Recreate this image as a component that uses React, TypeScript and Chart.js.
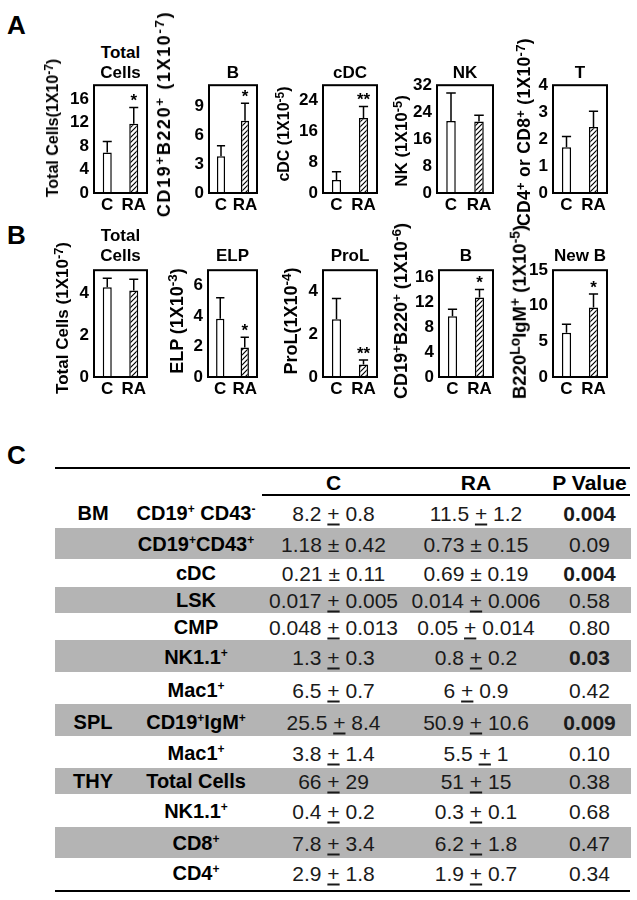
import React, { useEffect, useRef } from "react";
import { Chart, registerables } from "chart.js";

Chart.register(...registerables);

const FONT = "'Liberation Sans', Arial, Helvetica, sans-serif";

// ---------- DATA ----------
const groups = ["C", "RA"];

// Panel A
const aTitles = ["Total\nCells", "B", "cDC", "NK", "T"];
const aYTitles = [
  "Total Cells(1X10^{-7})",
  "CD19^{+}B220^{+} (1X10^{-7})",
  "cDC (1X10^{-5})",
  "NK (1X10^{-5})",
  "CD4^{+} or CD8^{+} (1X10^{-7})",
];
const aMeans = [
  [6.9, 11.8],
  [3.83, 7.5],
  [3.4, 19.5],
  [21.4, 21.2],
  [1.7, 2.45],
];
const aErrors = [
  [1.9, 2.8],
  [1.07, 1.83],
  [2.1, 3.0],
  [8.3, 1.9],
  [0.4, 0.58],
];
const aStars = [
  ["", "*"],
  ["", "*"],
  ["", "**"],
  ["", ""],
  ["", ""],
];
const aMax = [18.4, 11.2, 28, 32, 4];
const aStep = [4, 3, 8, 8, 1];

// Panel B
const bTitles = ["Total\nCells", "ELP", "ProL", "B", "New B"];
const bYTitles = [
  "Total Cells (1X10^{-7})",
  "ELP (1X10^{-3})",
  "ProL(1X10^{-4})",
  "CD19^{+}B220^{+} (1X10^{-6})",
  "B220^{Lo}IgM^{+} (1X10^{-5})",
];
const bMeans = [
  [4.28, 4.13],
  [3.82, 1.93],
  [2.7, 0.58],
  [9.8, 12.8],
  [6.2, 9.77],
];
const bErrors = [
  [0.43, 0.54],
  [1.38, 0.67],
  [0.98, 0.22],
  [1.1, 1.3],
  [1.2, 1.9],
];
const bStars = [
  ["", ""],
  ["", "*"],
  ["", "**"],
  ["", "*"],
  ["", "*"],
];
const bMax = [5.1, 7, 5, 17.2, 15];
const bStep = [2, 2, 2, 4, 5];

// Panel C table
const tableHeader = ["C", "RA", "P Value"];
const organs = ["BM", "", "", "", "", "", "", "SPL", "", "THY", "", "", ""];
const populations = [
  "CD19^{+} CD43^{-}",
  "CD19^{+}CD43^{+}",
  "cDC",
  "LSK",
  "CMP",
  "NK1.1^{+}",
  "Mac1^{+}",
  "CD19^{+}IgM^{+}",
  "Mac1^{+}",
  "Total Cells",
  "NK1.1^{+}",
  "CD8^{+}",
  "CD4^{+}",
];
const cMean = ["8.2", "1.18", "0.21", "0.017", "0.048", "1.3", "6.5", "25.5", "3.8", "66", "0.4", "7.8", "2.9"];
const cSD = ["0.8", "0.42", "0.11", "0.005", "0.013", "0.3", "0.7", "8.4", "1.4", "29", "0.2", "3.4", "1.8"];
const raMean = ["11.5", "0.73", "0.69", "0.014", "0.05", "0.8", "6", "50.9", "5.5", "51", "0.3", "6.2", "1.9"];
const raSD = ["1.2", "0.15", "0.19", "0.006", "0.014", "0.2", "0.9", "10.6", "1", "15", "0.1", "1.8", "0.7"];
const pValues = ["0.004", "0.09", "0.004", "0.58", "0.80", "0.03", "0.42", "0.009", "0.10", "0.38", "0.68", "0.47", "0.34"];
const pSignificant = [true, false, true, false, false, true, false, true, false, false, false, false, false];
const plusMinusGlyph = [false, true, true, false, false, false, false, false, false, false, false, false, false];

// ---------- LAYOUT ----------
const aBoxes = [
  { x0: 94, x1: 147 },
  { x0: 209, x1: 257 },
  { x0: 323, x1: 377 },
  { x0: 437, x1: 493 },
  { x0: 553, x1: 607 },
];
const aRow = { top: 82, bottom: 193 };
const bBoxes = [
  { x0: 94, x1: 147 },
  { x0: 208, x1: 257 },
  { x0: 323, x1: 377 },
  { x0: 439, x1: 493 },
  { x0: 553, x1: 607 },
];
const bRow = { top: 267, bottom: 377 };
const aYTitlePos = [
  [53, 128],
  [164, 114],
  [284, 134],
  [401, 141],
  [525, 132],
];
const bYTitlePos = [
  [62, 318],
  [177, 321],
  [291, 321],
  [401, 311],
  [520, 312],
];
const aYTitleSize = [16, 18, 16, 17, 17.5];
const aYTitleSpacing = [0, 1.6, 0, 0, 0.3];
const bYTitleSize = [17, 18, 18, 18, 18.5];
const bYTitleSpacing = [0, 0, 0, 0, 0];
const aTitleY = 72;
const bTitleY = 255;

const rowBounds = [498, 528, 559, 587, 613, 640, 672, 704, 736, 768, 794, 827, 858, 888];
const rowCenters = [513, 544, 573, 600, 627, 657, 690, 722, 753, 781, 811, 843, 873];
const colX = { organ: 93, pop: 196, c: 333.5, ra: 476, p: 589.5 };

// ---------- HELPERS ----------
function rich(s: string, size = "0.75em", top = "-0.42em") {
  const parts = s.split(/(\^\{[^}]*\})/);
  return parts.map((p, i) =>
    p.startsWith("^{") ? (
      <span key={i} style={{ fontSize: size, position: "relative", top }}>
        {p.slice(2, -1)}
      </span>
    ) : (
      <React.Fragment key={i}>{p}</React.Fragment>
    )
  );
}

function makeHatch(): CanvasPattern | string {
  const c = document.createElement("canvas");
  const n = 5;
  c.width = n;
  c.height = n;
  const g = c.getContext("2d");
  if (!g) return "#fff";
  g.fillStyle = "#fff";
  g.fillRect(0, 0, n, n);
  g.strokeStyle = "#000";
  g.lineWidth = 1.2;
  g.beginPath();
  g.moveTo(0, n);
  g.lineTo(n, 0);
  g.moveTo(-1, 1);
  g.lineTo(1, -1);
  g.moveTo(n - 1, n + 1);
  g.lineTo(n + 1, n - 1);
  g.stroke();
  return g.createPattern(c, "repeat") || "#fff";
}

const boxPlugin = {
  id: "plotBox",
  afterDraw(chart: any) {
    const { left, top, right, bottom } = chart.chartArea;
    const ctx = chart.ctx;
    ctx.save();
    ctx.strokeStyle = "#000";
    ctx.lineWidth = 2;
    ctx.strokeRect(left, top, right - left, bottom - top);
    ctx.restore();
  },
};

function errorPlugin(errors: number[], stars: string[]) {
  return {
    id: "errorBars",
    afterDatasetsDraw(chart: any) {
      const ctx = chart.ctx;
      const meta = chart.getDatasetMeta(0);
      const ys = chart.scales.y;
      ctx.save();
      ctx.strokeStyle = "#000";
      ctx.lineWidth = 1.5;
      meta.data.forEach((bar: any, i: number) => {
        const v = chart.data.datasets[0].data[i] as number;
        const yTop = ys.getPixelForValue(v + errors[i]);
        const x = bar.x;
        const half = bar.width / 2;
        ctx.beginPath();
        ctx.moveTo(x, bar.y);
        ctx.lineTo(x, yTop);
        ctx.moveTo(x - half, yTop);
        ctx.lineTo(x + half, yTop);
        ctx.stroke();
        if (stars[i]) {
          ctx.fillStyle = "#000";
          ctx.font = `bold 17px ${FONT}`;
          ctx.textAlign = "center";
          ctx.textBaseline = "alphabetic";
          ctx.fillText(stars[i], x, yTop - 1);
        }
      });
      ctx.restore();
    },
  };
}

const L = 36;
const T = 12;
const R = 4;
const B = 28;

function MiniBar(props: {
  x0: number;
  x1: number;
  top: number;
  bottom: number;
  means: number[];
  errors: number[];
  stars: string[];
  max: number;
  step: number;
}) {
  const ref = useRef<HTMLCanvasElement>(null);
  const w = props.x1 - props.x0;
  const h = props.bottom - props.top;
  useEffect(() => {
    const canvas = ref.current;
    if (!canvas) return;
    const hatch = makeHatch();
    const tickFont = { family: FONT, size: 17, weight: "bold" as const };
    const chart = new Chart(canvas, {
      type: "bar",
      data: {
        labels: groups,
        datasets: [
          {
            data: props.means,
            backgroundColor: ["#ffffff", hatch as any],
            borderColor: "#000",
            borderWidth: 1.5,
            barPercentage: 0.34,
            categoryPercentage: 1,
          },
        ],
      },
      options: {
        responsive: false,
        animation: false,
        devicePixelRatio: 1,
        events: [],
        layout: { padding: { top: T, right: R, left: 0, bottom: 0 } },
        plugins: {
          legend: { display: false },
          tooltip: { enabled: false },
          title: { display: false },
        },
        scales: {
          x: {
            grid: { display: false, drawTicks: false },
            border: { display: false },
            ticks: { color: "#000", font: tickFont, padding: 2, maxRotation: 0, autoSkip: false },
            afterFit: (s: any) => {
              s.height = B;
            },
          },
          y: {
            min: 0,
            max: props.max,
            grid: { display: false, drawTicks: false },
            border: { display: false },
            ticks: { stepSize: props.step, includeBounds: false, color: "#000", font: tickFont, padding: 5 },
            afterFit: (s: any) => {
              s.width = L;
            },
          },
        },
      },
      plugins: [errorPlugin(props.errors, props.stars), boxPlugin],
    });
    return () => chart.destroy();
  }, []);
  return (
    <canvas
      ref={ref}
      width={w + L + R}
      height={h + T + B}
      style={{ position: "absolute", left: props.x0 - L, top: props.top - T, width: w + L + R, height: h + T + B }}
    />
  );
}

const baseText: React.CSSProperties = {
  position: "absolute",
  fontFamily: FONT,
  whiteSpace: "nowrap",
  lineHeight: 1,
  color: "#000",
};

function CText(props: {
  x: number;
  y: number;
  size: number;
  bold?: boolean;
  rotate?: boolean;
  color?: string;
  spacing?: number;
  children: any;
}) {
  return (
    <div
      style={{
        ...baseText,
        left: props.x,
        top: props.y,
        fontSize: props.size,
        fontWeight: props.bold ? 700 : 400,
        letterSpacing: props.spacing ? props.spacing + "px" : undefined,
        color: props.color || "#000",
        transform: `translate(-50%, -50%)${props.rotate ? " rotate(-90deg)" : ""}`,
      }}
    >
      {props.children}
    </div>
  );
}

function ChartTitle(props: { x: number; y: number; text: string }) {
  const lines = props.text.split("\n");
  return (
    <>
      {lines.map((ln, i) => (
        <CText key={i} x={props.x} y={props.y - (lines.length - 1 - i) * 20} size={17} bold>
          {ln}
        </CText>
      ))}
    </>
  );
}

function PM(props: { mean: string; sd: string; glyph: boolean }) {
  return (
    <>
      {props.mean}{" "}
      {props.glyph ? (
        "±"
      ) : (
        <span style={{ textDecoration: "underline", textUnderlineOffset: "3px", textDecorationThickness: "1.5px" }}>+</span>
      )}{" "}
      {props.sd}
    </>
  );
}

export default function App() {
  return (
    <div
      style={{
        position: "absolute",
        left: 0,
        top: 0,
        width: 637,
        height: 900,
        background: "#fff",
        overflow: "hidden",
      }}
    >
      {/* Panel letters */}
      <div style={{ ...baseText, left: 7, top: 12, fontSize: 26, fontWeight: 700 }}>A</div>
      <div style={{ ...baseText, left: 7, top: 222, fontSize: 26, fontWeight: 700 }}>B</div>
      <div style={{ ...baseText, left: 7, top: 442, fontSize: 26, fontWeight: 700 }}>C</div>

      {/* Panel A */}
      {aBoxes.map((bx, i) => (
        <React.Fragment key={"a" + i}>
          <MiniBar
            x0={bx.x0}
            x1={bx.x1}
            top={aRow.top}
            bottom={aRow.bottom}
            means={aMeans[i]}
            errors={aErrors[i]}
            stars={aStars[i]}
            max={aMax[i]}
            step={aStep[i]}
          />
          <ChartTitle x={(bx.x0 + bx.x1) / 2} y={aTitleY} text={aTitles[i]} />
          <CText x={aYTitlePos[i][0]} y={aYTitlePos[i][1]} size={aYTitleSize[i]} spacing={aYTitleSpacing[i]} bold rotate>
            {rich(aYTitles[i])}
          </CText>
        </React.Fragment>
      ))}

      {/* Panel B */}
      {bBoxes.map((bx, i) => (
        <React.Fragment key={"b" + i}>
          <MiniBar
            x0={bx.x0}
            x1={bx.x1}
            top={bRow.top}
            bottom={bRow.bottom}
            means={bMeans[i]}
            errors={bErrors[i]}
            stars={bStars[i]}
            max={bMax[i]}
            step={bStep[i]}
          />
          <ChartTitle x={(bx.x0 + bx.x1) / 2} y={bTitleY} text={bTitles[i]} />
          <CText x={bYTitlePos[i][0]} y={bYTitlePos[i][1]} size={bYTitleSize[i]} spacing={bYTitleSpacing[i]} bold rotate>
            {rich(bYTitles[i])}
          </CText>
        </React.Fragment>
      ))}

      {/* Panel C table */}
      {rowBounds.slice(0, -1).map((top, i) =>
        i % 2 === 1 ? (
          <div
            key={"bg" + i}
            style={{ position: "absolute", left: 55, top, width: 576, height: rowBounds[i + 1] - top, background: "#b4b4b4" }}
          />
        ) : null
      )}
      <div style={{ position: "absolute", left: 55, top: 466.5, width: 575, height: 2, background: "#000" }} />
      <div style={{ position: "absolute", left: 262, top: 493.5, width: 368, height: 2, background: "#000" }} />
      <div style={{ position: "absolute", left: 55, top: 889.5, width: 575, height: 2, background: "#000" }} />

      <CText x={colX.c} y={482} size={21} bold>{tableHeader[0]}</CText>
      <CText x={colX.ra} y={482} size={21} bold>{tableHeader[1]}</CText>
      <CText x={colX.p} y={482} size={21} bold>{tableHeader[2]}</CText>

      {populations.map((pop, i) => (
        <React.Fragment key={"r" + i}>
          {organs[i] ? (
            <CText x={colX.organ} y={rowCenters[i]} size={20} bold>
              {organs[i]}
            </CText>
          ) : null}
          <CText x={colX.pop} y={rowCenters[i]} size={20} bold>
            {rich(pop, "0.6em", "-0.55em")}
          </CText>
          <CText x={colX.c} y={rowCenters[i]} size={21} color="#1a1a1a">
            <PM mean={cMean[i]} sd={cSD[i]} glyph={plusMinusGlyph[i]} />
          </CText>
          <CText x={colX.ra} y={rowCenters[i]} size={21} color="#1a1a1a">
            <PM mean={raMean[i]} sd={raSD[i]} glyph={plusMinusGlyph[i]} />
          </CText>
          <CText x={colX.p} y={rowCenters[i]} size={21} bold={pSignificant[i]} color="#1a1a1a">
            {pValues[i]}
          </CText>
        </React.Fragment>
      ))}
    </div>
  );
}
